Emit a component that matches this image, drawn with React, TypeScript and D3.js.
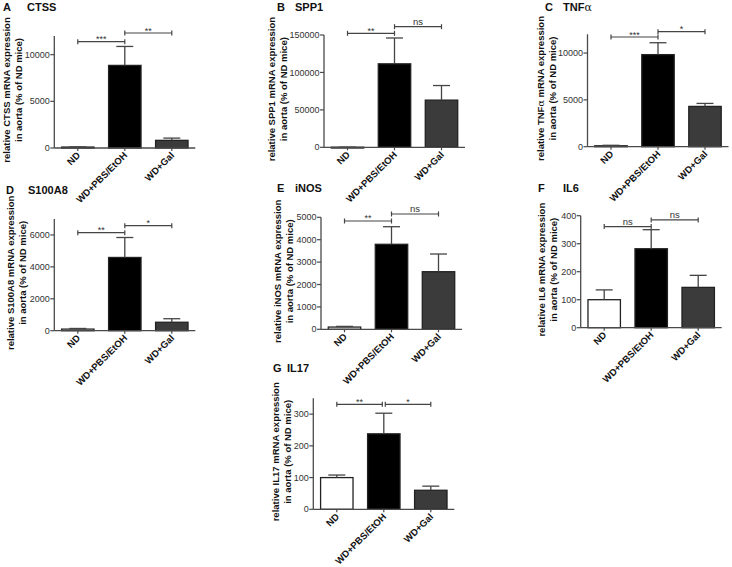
import React from 'react';
import * as d3 from 'd3';

// ---------- data ----------
const groups = ['ND', 'WD+PBS/EtOH', 'WD+Gal'];
const panelLetters = ['A', 'B', 'C', 'D', 'E', 'F', 'G'];
const genes = ['CTSS', 'SPP1', 'TNF', 'S100A8', 'iNOS', 'IL6', 'IL17'];

const ctssMean = [100, 8850, 820];
const ctssSem = [20, 2030, 240];
const spp1Mean = [100, 111500, 63000];
const spp1Sem = [50, 34500, 19500];
const tnfMean = [100, 9830, 4300];
const tnfSem = [50, 1270, 320];
const s100a8Mean = [100, 4590, 530];
const s100a8Sem = [40, 1250, 220];
const inosMean = [100, 3795, 2571];
const inosSem = [30, 785, 790];
const il6Mean = [100, 282, 144];
const il6Sem = [35, 68, 43];
const il17Mean = [100, 238, 60];
const il17Sem = [8, 65, 13];

const allMeans = [ctssMean, spp1Mean, tnfMean, s100a8Mean, inosMean, il6Mean, il17Mean];
const allSems = [ctssSem, spp1Sem, tnfSem, s100a8Sem, inosSem, il6Sem, il17Sem];

const yMaxes = [12000, 150000, 12000, 7000, 5000, 400, 350];
const yTicks = [
  [0, 5000, 10000],
  [0, 50000, 100000, 150000],
  [0, 5000, 10000],
  [0, 2000, 4000, 6000],
  [0, 1000, 2000, 3000, 4000, 5000],
  [0, 100, 200, 300, 400],
  [0, 100, 200, 300],
];
const sigLabels = [
  ['***', '**'],
  ['**', 'ns'],
  ['***', '*'],
  ['**', '*'],
  ['**', 'ns'],
  ['ns', 'ns'],
  ['**', '*'],
];
const sigLevels = [
  [11389, 12321],
  [152270, 161087],
  [11711, 12277],
  [6141, 6580],
  [4835, 5147],
  [361, 385],
  [331, 331],
];

// ---------- layout ----------
const layout = [
  { ax: 54.3, top: 36, zero: 148, tx: 3, gx: 27, ty: 11, yl: -32.5 },
  { ax: 324, top: 35, zero: 147.3, tx: 277, gx: 295, ty: 11, yl: -37 },
  { ax: 587.5, top: 34.3, zero: 146.7, tx: 545, gx: 563, ty: 11, yl: -31.5 },
  { ax: 54.3, top: 219, zero: 330.7, tx: 6, gx: 28, ty: 194, yl: -28.5 },
  { ax: 321, top: 217.3, zero: 329.3, tx: 277, gx: 295, ty: 192, yl: -28 },
  { ax: 580.7, top: 215.7, zero: 327.7, tx: 538, gx: 563, ty: 192, yl: -23.5 },
  { ax: 313.3, top: 398.3, zero: 509.3, tx: 273, gx: 287, ty: 372, yl: -22.5 },
];
const AXIS_W = 141;
const FONT = '"Liberation Sans", Arial, Helvetica, sans-serif';
const barFills = ['#ffffff', '#000000', '#3b3b3b'];
const AX_COLOR = '#4a4a4a';

function GeneName({ gene }: { gene: string }) {
  if (gene === 'TNF') {
    return (
      <>
        TNF<tspan fontWeight="normal" fontFamily='"DejaVu Serif", serif'>α</tspan>
      </>
    );
  }
  return <>{gene}</>;
}

function Panel({ i }: { i: number }) {
  const L = layout[i];
  const means = allMeans[i];
  const sems = allSems[i];
  const x = d3
    .scaleBand<string>()
    .domain(groups)
    .range([L.ax, L.ax + AXIS_W])
    .paddingInner(0.31)
    .paddingOuter(0.155);
  const y = d3.scaleLinear().domain([0, yMaxes[i]]).range([L.zero, L.top]);
  const bw = x.bandwidth();
  const cx = (g: string) => (x(g) as number) + bw / 2;
  const gene = genes[i];
  const ylCenter = (L.top + L.zero) / 2 - 2;

  return (
    <g>
      {/* title */}
      <text x={L.tx} y={L.ty} fontFamily={FONT} fontWeight="bold" fontSize={11} fill="#111">
        {panelLetters[i]}
      </text>
      <text x={L.gx} y={L.ty} fontFamily={FONT} fontWeight="bold" fontSize={11} fill="#111">
        <GeneName gene={gene} />
      </text>

      {/* y label */}
      <g transform={`translate(${L.ax + L.yl},${ylCenter}) rotate(-90)`}>
        <text y={-12} textAnchor="middle" fontFamily={FONT} fontWeight="bold" fontSize={9.5} fill="#111">
          relative <GeneName gene={gene} /> mRNA expression
        </text>
        <text y={0} textAnchor="middle" fontFamily={FONT} fontWeight="bold" fontSize={9.5} fill="#111">
          in aorta (% of ND mice)
        </text>
      </g>

      {/* bars */}
      {groups.map((g, k) => (
        <rect
          key={g}
          x={x(g)}
          y={y(means[k])}
          width={bw}
          height={Math.max(0.8, L.zero - y(means[k]))}
          fill={barFills[k]}
          stroke="#222"
          strokeWidth={1.3}
        />
      ))}

      {/* error bars (upper only) */}
      {groups.map((g, k) => {
        const c = cx(g);
        const yt = y(means[k] + sems[k]);
        return (
          <g key={'e' + g} stroke="#444" strokeWidth={1.3}>
            <line x1={c} x2={c} y1={y(means[k])} y2={yt} />
            <line x1={c - 8.5} x2={c + 8.5} y1={yt} y2={yt} />
          </g>
        );
      })}

      {/* y axis */}
      <line x1={L.ax} x2={L.ax} y1={L.zero} y2={L.top} stroke={AX_COLOR} strokeWidth={1.3} />
      {yTicks[i].map((t) => (
        <g key={t}>
          <line x1={L.ax - 4} x2={L.ax} y1={y(t)} y2={y(t)} stroke={AX_COLOR} strokeWidth={1.2} />
          <text
            x={L.ax - 4.5}
            y={y(t)}
            dy="0.35em"
            textAnchor="end"
            fontFamily={FONT}
            fontSize={9}
            fill="#333"
          >
            {t}
          </text>
        </g>
      ))}

      {/* x axis */}
      <line x1={L.ax} x2={L.ax + AXIS_W} y1={L.zero} y2={L.zero} stroke={AX_COLOR} strokeWidth={1.3} />
      {groups.map((g) => (
        <g key={'x' + g}>
          <line x1={cx(g)} x2={cx(g)} y1={L.zero} y2={L.zero + 3} stroke={AX_COLOR} strokeWidth={1.2} />
          <text
            transform={`translate(${cx(g) + 3},${L.zero + 8}) rotate(-45)`}
            textAnchor="end"
            fontFamily={FONT}
            fontWeight="bold"
            fontSize={9.5}
            fill="#111"
          >
            {g}
          </text>
        </g>
      ))}

      {/* significance brackets */}
      {sigLabels[i].map((lab, k) => {
        const same = sigLevels[i][0] === sigLevels[i][1];
        const x1 = cx(groups[k]) + (same && k === 1 ? 1.5 : 0);
        const x2 = cx(groups[k + 1]) - (same && k === 0 ? 1.5 : 0);
        const yy = y(sigLevels[i][k]);
        const isStar = lab.indexOf('*') >= 0;
        return (
          <g key={'s' + k}>
            <line x1={x1} x2={x2} y1={yy} y2={yy} stroke="#444" strokeWidth={1.2} />
            <line x1={x1} x2={x1} y1={yy - 2.5} y2={yy + 2.5} stroke="#444" strokeWidth={1.2} />
            <line x1={x2} x2={x2} y1={yy - 2.5} y2={yy + 2.5} stroke="#444" strokeWidth={1.2} />
            <text
              x={(x1 + x2) / 2}
              y={isStar ? yy + 0.5 : yy - 2}
              textAnchor="middle"
              fontFamily={FONT}
              fontSize={isStar ? 9 : 9.5}
              fill="#333"
            >
              {lab}
            </text>
          </g>
        );
      })}
    </g>
  );
}

export default function App() {
  return (
    <svg
      width={732}
      height={567}
      viewBox="0 0 732 567"
      style={{ position: 'absolute', left: 0, top: 0, background: '#fff' }}
    >
      <rect width={732} height={567} fill="#fff" />
      {panelLetters.map((_, i) => (
        <Panel key={i} i={i} />
      ))}
    </svg>
  );
}
